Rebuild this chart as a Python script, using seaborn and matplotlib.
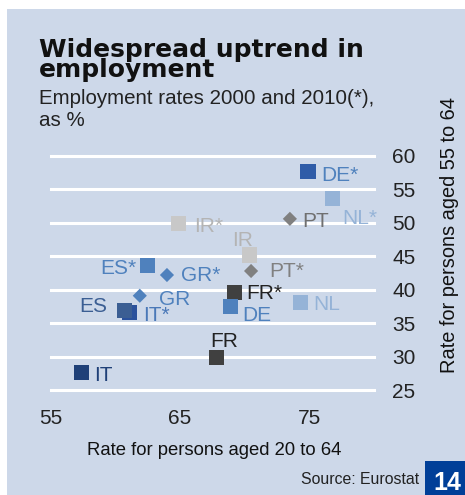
import matplotlib
matplotlib.use("Agg")
import matplotlib.pyplot as plt
from matplotlib.patches import Rectangle
import pandas as pd
import seaborn as sns

# Employment rates (%) by country, 2000 and 2010
countries = ["DE", "NL", "PT", "IR", "ES", "GR", "FR", "IT"]
rate_20_64_2000 = [68.9, 74.3, 73.5, 70.4, 60.7, 61.9, 67.8, 57.4]
rate_55_64_2000 = [37.5, 38.1, 50.6, 45.2, 36.9, 39.1, 29.9, 27.6]
rate_20_64_2010 = [74.9, 76.8, 70.5, 64.9, 62.5, 64.0, 69.2, 61.1]
rate_55_64_2010 = [57.7, 53.6, 42.8, 49.9, 43.6, 42.2, 39.6, 36.6]
x_ticks = [55, 65, 75]
y_ticks = [25, 30, 35, 40, 45, 50, 55, 60]

# marker shape per country
shapes = {"DE": "s", "NL": "s", "PT": "D", "IR": "s", "ES": "s", "GR": "D", "FR": "s", "IT": "s"}

rows = []
for i, c in enumerate(countries):
    rows.append({"label": c, "young": rate_20_64_2000[i], "old": rate_55_64_2000[i], "shape": shapes[c]})
    rows.append({"label": c + "*", "young": rate_20_64_2010[i], "old": rate_55_64_2010[i], "shape": shapes[c]})
df = pd.DataFrame(rows)
# IT* sits underneath ES
order = ["DE*", "NL*", "PT", "IR*", "IR", "ES*", "GR*", "PT*", "FR*", "GR", "NL", "DE", "IT*", "ES", "FR", "IT"]
df = df.set_index("label").loc[order].reset_index()

colors = {
    "DE*": "#2f5ca8", "DE": "#4f81bd",
    "NL*": "#95b3d7", "NL": "#95b3d7",
    "PT*": "#808080", "PT": "#808080",
    "IR*": "#c8c8c8", "IR": "#c8c8c8",
    "ES*": "#4f81bd", "ES": "#3b5e93",
    "GR*": "#4f81bd", "GR": "#4f81bd",
    "FR*": "#404040", "FR": "#404040",
    "IT*": "#2a519c", "IT": "#1f4078",
}
text_colors = dict(colors)
text_colors.update({"IR*": "#b4b4b4", "IR": "#b4b4b4", "IT*": "#4a78b8", "FR": "#222222", "FR*": "#222222",
                    "PT": "#707070", "PT*": "#808080", "DE*": "#4f81bd"})

# label offsets in pixels (dx right, dy down to cap centre) and alignment
label_pos = {
    "DE*": (13.5, 2, "left"), "NL*": (10, 17.7, "left"), "PT": (12, 1, "left"),
    "IR*": (16, 1, "left"), "IR": (-7, -16, "center"), "ES*": (-11, 1, "right"),
    "GR*": (14, -1.7, "left"), "PT*": (18, -1, "left"), "FR*": (11.7, -0.6, "left"),
    "GR": (19, 1.8, "left"), "NL": (13, 0.6, "left"), "DE": (12.3, 7.6, "left"),
    "ES": (-16.7, -5.7, "right"), "IT*": (14, 0.8, "left"), "FR": (8.3, -17.8, "center"),
    "IT": (12.3, 0.6, "left"),
}

W, H = 465, 495
fig = plt.figure(figsize=(W / 100, H / 100), dpi=100)
fig.patch.set_facecolor("white")
panel = "#cdd8e9"
fig.add_artist(Rectangle((7 / W, 0), 1 - 7 / W, 1 - 9 / H, transform=fig.transFigure,
                         facecolor=panel, edgecolor="none", zorder=0))

def fx(px):
    return px / W

def fy(py):
    return 1 - py / H

ax = fig.add_axes([fx(50.5), fy(390), fx(374) - fx(50.5), fy(156) - fy(390)])
ax.set_facecolor("none")

sns.scatterplot(data=df, x="young", y="old", hue="label", palette=colors,
                style="shape", markers={"s": "s", "D": "D"},
                size="shape", sizes={"s": 120, "D": 52},
                linewidth=0, legend=False, ax=ax, zorder=3)

ax.set_xlim(55, 80)
ax.set_ylim(25, 60)
ax.set_xticks(x_ticks)
ax.set_yticks(y_ticks)
ax.grid(False)
for v in y_ticks:
    ax.axhline(v, color="white", lw=2.2, zorder=1, clip_on=False)
for s in ax.spines.values():
    s.set_visible(False)
ax.yaxis.tick_right()
ax.tick_params(axis="y", length=0, pad=13, labelsize=15, labelcolor="#222222")
ax.tick_params(axis="x", length=0, pad=14, labelsize=15, labelcolor="#222222")
for t in ax.get_xticklabels() + ax.get_yticklabels():
    t.set_family("Liberation Sans")
ax.set_xlabel("")
ax.set_ylabel("")

fam = "Liberation Sans"
lab_fs = 15
cap = 0.716 * lab_fs / 0.72
for _, r in df.iterrows():
    dx, dy, ha = label_pos[r["label"]]
    ax.annotate(r["label"], (r["young"], r["old"]),
                xytext=(dx * 0.72, -(dy + cap / 2) * 0.72), textcoords="offset points",
                ha=ha, va="baseline", fontsize=lab_fs, family=fam,
                color=text_colors[r["label"]], zorder=4)

# titles and captions (baseline refers to the last line)
fig.text(fx(39), fy(77), "Widespread uptrend in\nemployment", fontsize=18, fontweight="heavy",
         family="DejaVu Sans", color="#111111", va="baseline", linespacing=0.78)
fig.text(fx(39), fy(126), "Employment rates 2000 and 2010(*),\nas %", fontsize=14.8, family=fam,
         color="#222222", va="baseline", linespacing=1.2)

fig.text(fx(214), fy(455), "Rate for persons aged 20 to 64", fontsize=13.3, family=fam,
         color="#111111", ha="center", va="baseline")
fig.text(fx(449), fy(235), "Rate for persons aged 55 to 64", fontsize=14.4, family=fam,
         color="#111111", ha="center", va="center", rotation=90)
fig.text(fx(419), fy(484), "Source: Eurostat", fontsize=11.4, family=fam,
         color="#222222", ha="right", va="baseline")

fig.add_artist(Rectangle((fx(425), 0), 1 - fx(425), fy(461), transform=fig.transFigure,
                         facecolor="#003f98", edgecolor="none", zorder=2))
fig.text(fx(447.5), fy(490), "14", fontsize=18, fontweight="bold", family=fam,
         color="white", ha="center", va="baseline", zorder=3)

fig.savefig("out.png", dpi=100, facecolor=fig.get_facecolor())
